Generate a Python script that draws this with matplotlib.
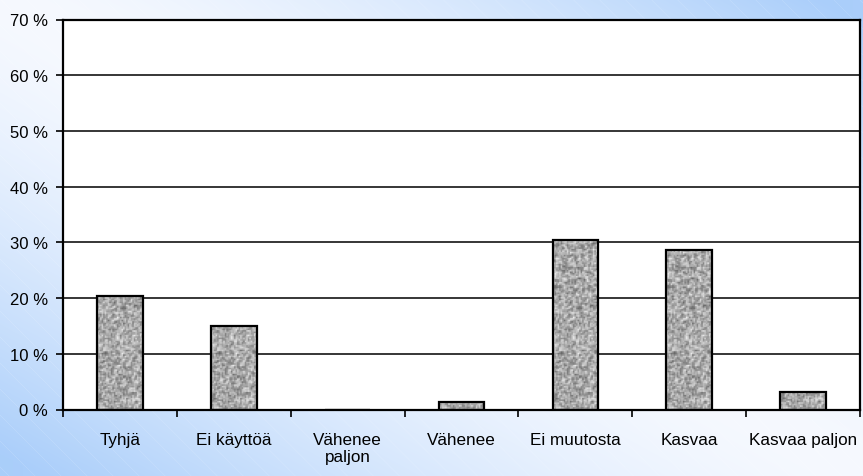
import numpy as np
import matplotlib
matplotlib.use("Agg")
import matplotlib.pyplot as plt
from matplotlib.ticker import FuncFormatter, FixedLocator

plt.rcParams['font.family'] = ['Liberation Sans', 'DejaVu Sans']

categories = ["Tyhjä", "Ei käyttöä", "Vähenee\npaljon", "Vähenee",
              "Ei muutosta", "Kasvaa", "Kasvaa paljon"]
values = [20.4, 15.0, 0.0, 1.3, 30.4, 28.6, 3.1]

W, H = 863, 477
fig = plt.figure(figsize=(W / 100, H / 100), dpi=100)

# taustan liukuväri + vinoraidat
bg = fig.add_axes([0, 0, 1, 1], zorder=-10)
yy, xx = np.mgrid[0:H, 0:W]
u = xx / W + (H - yy) / H          # 0 vasen ala, 2 oikea ylä
t = np.clip(np.abs(u - 1.0) * 1.05, 0, 1) ** 1.5
blue = np.array([170, 206, 250]) / 255
white = np.array([246, 249, 255]) / 255
img = white[None, None, :] * (1 - t[..., None]) + blue[None, None, :] * t[..., None]
stripes = ((xx - yy) % 26) < 1.0
img[stripes] = img[stripes] * 0.88 + 0.12
bg.imshow(img, aspect="auto", extent=[0, W, 0, H], interpolation="bilinear")
bg.set_axis_off()

ax = fig.add_axes([63 / W, (H - 410.5) / H, (860 - 63) / W, (410.5 - 20.5) / H])
ax.set_facecolor("white")
n = len(categories)
x = np.arange(n)
bars = ax.bar(x, values, width=0.4, color="none", edgecolor="black",
              linewidth=1.6, zorder=3)

# graniittikuvio palkkeihin (hieno kohina)
rng = np.random.default_rng(7)
noise = rng.random((261, 31))
sm = (2 * noise[:-1, :-1] + noise[1:, :-1] + noise[:-1, 1:]) / 4
sm = (sm - sm.min()) / (sm.max() - sm.min())
tex = 0.40 + 0.52 * sm
for b in bars:
    if b.get_height() <= 0:
        continue
    x0, w = b.get_x(), b.get_width()
    im = ax.imshow(tex, cmap="gray", vmin=0, vmax=1, extent=[x0, x0 + w, 0, 70],
                   aspect="auto", interpolation="antialiased", zorder=2)
    im.set_clip_path(b)

ax.set_xlim(-0.5, n - 0.5)
ax.set_ylim(0, 70)
ax.set_yticks(np.arange(0, 71, 10))
ax.yaxis.set_major_formatter(FuncFormatter(lambda v, _: f"{v:.0f} %"))
ax.grid(axis="y", color="black", linewidth=1.1, zorder=1)
ax.set_axisbelow(True)

ax.xaxis.set_major_locator(FixedLocator(np.arange(-0.5, n, 1.0)))
ax.xaxis.set_major_formatter(FuncFormatter(lambda v, _: ""))
ax.xaxis.set_minor_locator(FixedLocator(x))
ax.set_xticklabels(categories, minor=True, fontsize=12.3, va="top",
                   linespacing=1.15)
ax.tick_params(axis="x", which="minor", length=0, pad=16)
ax.tick_params(axis="x", which="major", length=5, width=1.2, direction="out")
ax.tick_params(axis="y", length=5, width=1.2, labelsize=12, pad=6)

for s in ax.spines.values():
    s.set_linewidth(1.6)
    s.set_color("black")

fig.savefig("out.png", dpi=100)
